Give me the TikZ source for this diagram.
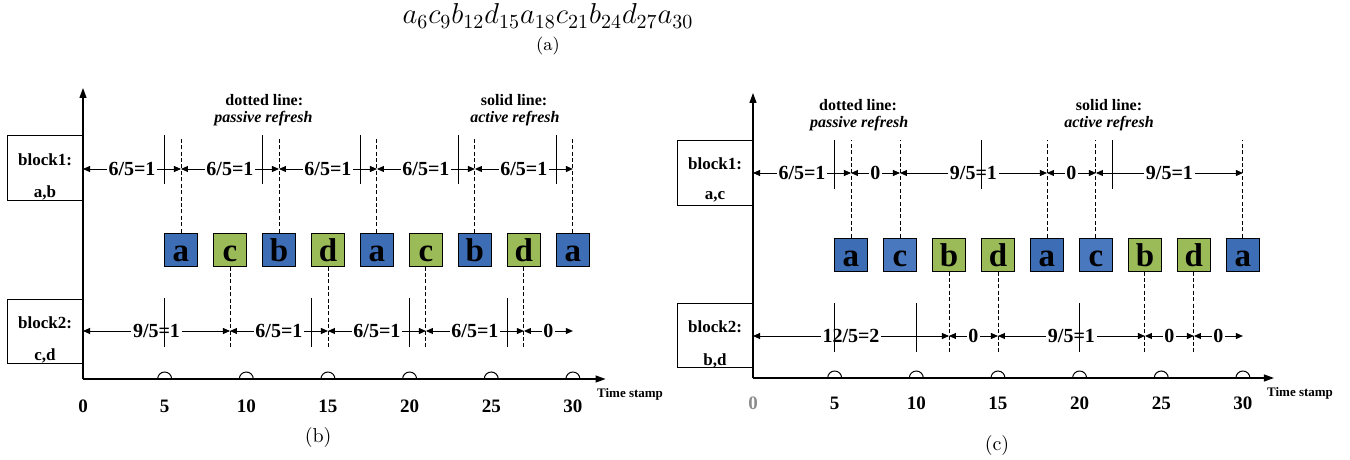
\documentclass[tikz,border=0pt]{standalone}
\usepackage{fontspec}
\newfontfamily\tnr{Liberation Serif}
\usetikzlibrary{arrows.meta}

\definecolor{accblue}{HTML}{3D6DB5}
\definecolor{accblueb}{HTML}{4A78BE}
\definecolor{accgreen}{HTML}{9BBB59}

\tikzset{
	axis/.style={line width=0.6pt, -{Triangle[length=5pt,width=3.5pt]}},
	span/.style={line width=0.45pt, {Triangle[length=3.5pt,width=3pt]}-{Triangle[length=3.5pt,width=3pt]}},
	spanlbl/.style={midway, fill=white, inner sep=0.8pt, font=\tnr\bfseries\fontsize{10}{10}\selectfont},
	passive/.style={line width=0.45pt, dash pattern=on 2pt off 1.2pt},
	active/.style={line width=0.5pt},
	acc/.style={draw, line width=0.5pt, minimum size=16.5pt, inner sep=0pt, text height=11.5pt, text depth=0pt,
		font=\tnr\bfseries\fontsize{16.5}{16}\selectfont},
	blkbox/.style={draw, line width=0.5pt, minimum width=37.5pt, minimum height=32pt, inner sep=0pt, anchor=east},
	blktxt/.style={font=\tnr\bfseries\fontsize{8.5}{10}\selectfont, inner sep=0pt},
	note/.style={font=\tnr\bfseries\fontsize{8}{9}\selectfont, inner sep=0pt},
	noteit/.style={font=\tnr\bfseries\itshape\fontsize{8}{9}\selectfont, inner sep=0pt},
	tick/.style={font=\tnr\bfseries\fontsize{9.5}{10}\selectfont, inner sep=0pt},
	stamp/.style={font=\tnr\bfseries\fontsize{6.5}{8}\selectfont, inner sep=0pt},
	bump/.style={line width=0.5pt},
}

\begin{document}
\begin{tikzpicture}[x=0.5pt, y=-0.5pt]
	\useasboundingbox (0,0) rectangle (1350,460);
	
	% Access sequence
	\node[inner sep=0pt] (seq) at (548,16) {\Large $a_6c_9b_{12}d_{15}a_{18}c_{21}b_{24}d_{27}a_{30}$};
	\node[inner sep=0pt] (capa) at (548,46) {\small (a)};
	
	% Panel (b)
	\begin{scope}[shift={(83,0)}, x=8.165pt]
		% Axes
		\coordinate (bO) at (0,379);
		\draw[axis] (bO) -- (0,88) coordinate (bY);
		\draw[axis] (bO) -- (32,379) coordinate (bX);
		\node[stamp] (bstamp) at (33.5,394) {Time stamp};
		\foreach \t in {0,5,...,30}
			\node[tick] (bt\t) at (\t,406) {\t};
		\foreach \t in {5,10,...,30}
			\draw[bump] ([xshift=-3.5pt]\t,379) arc[start angle=180, end angle=0, radius=3.5pt];
		
		% Blocks
		\node[blkbox] (b1box) at (0,168) {};
		\node[blktxt] (b1name) at ([yshift=4pt]b1box.center) {block1:};
		\node[blktxt] (b1set) at ([yshift=-12.5pt]b1box.center) {a,b};
		\node[blkbox] (b2box) at (0,331) {};
		\node[blktxt] (b2name) at ([yshift=4pt]b2box.center) {block2:};
		\node[blktxt] (b2set) at ([yshift=-12.5pt]b2box.center) {c,d};
		
		% Accesses
		\foreach \t/\l/\c in {6/a/accblue, 9/c/accgreen, 12/b/accblue, 15/d/accgreen, 18/a/accblue,
			21/c/accgreen, 24/b/accblue, 27/d/accgreen, 30/a/accblue}
			\node[acc, fill=\c] (bq\t) at (\t,249.5) {\l};
		
		% Refresh intervals of block1
		\foreach \t in {0,6,...,30}
			\coordinate (bu\t) at (\t,169);
		\foreach \a/\b/\s in {0/6/{6/5=1}, 6/12/{6/5=1}, 12/18/{6/5=1}, 18/24/{6/5=1}, 24/30/{6/5=1}}
			\draw[span] (bu\a) -- (bu\b) node[spanlbl] {\s};
		\foreach \t in {6,12,...,30}
			\draw[passive] (bq\t.north) -- (\t,137);
		\foreach \t in {5,11,...,29}
			\draw[active] (\t,135) -- (\t,184);
		
		% Refresh intervals of block2
		\foreach \t in {0,9,15,21,27,30}
			\coordinate (bl\t) at (\t,331);
		\foreach \a/\b/\s in {0/9/{9/5=1}, 9/15/{6/5=1}, 15/21/{6/5=1}, 21/27/{6/5=1}, 27/30/0}
			\draw[span] (bl\a) -- (bl\b) node[spanlbl] {\s};
		\foreach \t in {9,15,21,27}
			\draw[passive] (bq\t.south) -- (\t,348);
		\foreach \t in {5,14,20,26}
			\draw[active] (\t,298) -- (\t,347);
		
		% Legend
		\node[note] (bdot) at (11.1,100) {dotted line:};
		\node[noteit] (bpas) at (11.05,119) {passive refresh};
		\node[note] (bsol) at (26.4,100) {solid line:};
		\node[noteit] (bact) at (26.45,119) {active refresh};
		\node[inner sep=0pt] (capb) at (14.4,437) {(b)};
	\end{scope}
	
	% Panel (c)
	\begin{scope}[shift={(753,0)}, x=8.165pt]
		% Axes
		\coordinate (cO) at (0,378);
		\draw[axis] (cO) -- (0,93) coordinate (cY);
		\draw[axis] (cO) -- (31.9,378) coordinate (cX);
		\node[stamp] (cstamp) at (33.5,393) {Time stamp};
		\node[tick, text=black!45] (ct0) at (0,403) {0};
		\foreach \t in {5,10,...,30}
			\node[tick] (ct\t) at (\t,403) {\t};
		\foreach \t in {5,10,...,30}
			\draw[bump] ([xshift=-3.5pt]\t,378) arc[start angle=180, end angle=0, radius=3.5pt];
		
		% Blocks
		\node[blkbox] (c1box) at (0,173) {};
		\node[blktxt] (c1name) at ([yshift=4.5pt]c1box.center) {block1:};
		\node[blktxt] (c1set) at ([yshift=-12pt]c1box.center) {a,c};
		\node[blkbox] (c2box) at (0,335.5) {};
		\node[blktxt] (c2name) at ([yshift=4.5pt]c2box.center) {block2:};
		\node[blktxt] (c2set) at ([yshift=-12.5pt]c2box.center) {b,d};
		
		% Accesses
		\foreach \t/\l/\c in {6/a/accblue, 9/c/accblueb, 12/b/accgreen, 15/d/accgreen, 18/a/accblue,
			21/c/accblueb, 24/b/accgreen, 27/d/accgreen, 30/a/accblue}
			\node[acc, fill=\c] (cq\t) at (\t,254.5) {\l};
		
		% Refresh intervals of block1
		\foreach \t in {0,6,9,18,21,30}
			\coordinate (cu\t) at (\t,173);
		\foreach \a/\b/\s in {0/6/{6/5=1}, 6/9/0, 9/18/{9/5=1}, 18/21/0, 21/30/{9/5=1}}
			\draw[span] (cu\a) -- (cu\b) node[spanlbl] {\s};
		\foreach \t in {6,9,18,21,30}
			\draw[passive] (cq\t.north) -- (\t,140);
		\foreach \t in {5,14,22}
			\draw[active] (\t,140) -- (\t,189);
		
		% Refresh intervals of block2
		\foreach \t in {0,12,15,24,27,30}
			\coordinate (cl\t) at (\t,336);
		\foreach \a/\b/\s in {0/12/{12/5=2}, 12/15/0, 15/24/{9/5=1}, 24/27/0, 27/30/0}
			\draw[span] (cl\a) -- (cl\b) node[spanlbl] {\s};
		\foreach \t in {12,15,24,27}
			\draw[passive] (cq\t.south) -- (\t,352);
		\foreach \t in {5,10,20}
			\draw[active] (\t,303) -- (\t,352);
		
		% Legend
		\node[note] (cdot) at (6.43,105) {dotted line:};
		\node[noteit] (cpas) at (6.5,124) {passive refresh};
		\node[note] (csol) at (21.8,105) {solid line:};
		\node[noteit] (cact) at (21.8,124) {active refresh};
		\node[inner sep=0pt] (capc) at (14.94,445) {(c)};
	\end{scope}
\end{tikzpicture}
\end{document}
